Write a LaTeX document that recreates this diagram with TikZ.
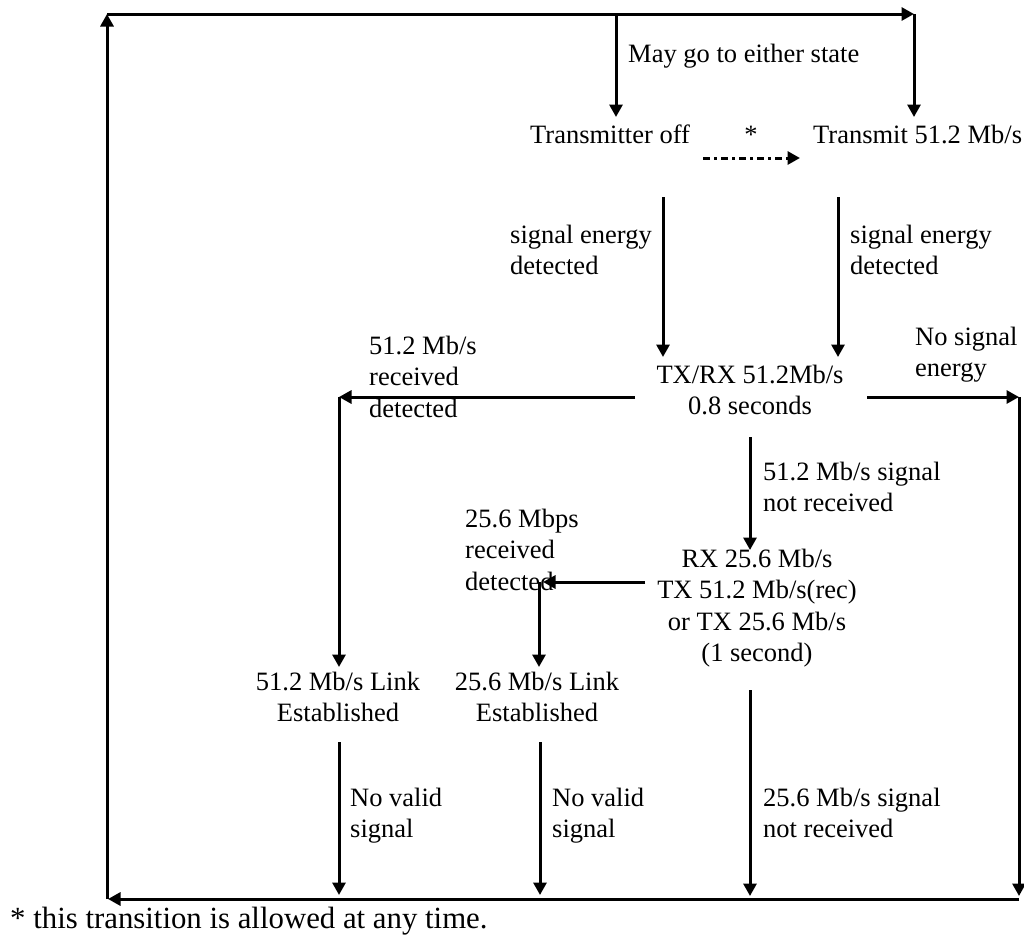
\documentclass[tikz,border=0pt]{standalone}
\usepackage{fontspec}
\setmainfont{Liberation Serif}
\usetikzlibrary{arrows.meta}
\begin{document}
\begin{tikzpicture}[x=1pt,y=-1pt,
  every node/.style={inner sep=0pt, font=\fontsize{26.5}{31.5}\selectfont},
  lbl/.style={anchor=base west, align=left},
  statebox/.style={anchor=base, align=center},
  conn/.style={line width=3pt, -{Triangle[length=12.5pt,width=13pt]}},
  dotconn/.style={conn, dash pattern=on 7pt off 4pt on 3pt off 4pt}]
\useasboundingbox (0,0) rectangle (1024,935);

% states and transition labels (base = baseline of the last line)
\node[lbl] (may) at (628,62) {May go to either state};
\node[anchor=base west] (txoff) at (530,143) {Transmitter off};
\node[anchor=base] (star) at (751,143) {*};
\node[anchor=base west] (tx51) at (813,143) {Transmit 51.2 Mb/s};
\node[lbl] (sedL) at (510,274.5) {signal energy\\detected};
\node[lbl] (sedR) at (850,274.5) {signal energy\\detected};
\node[statebox] (txrx) at (750,414.5) {TX/RX 51.2Mb/s\\0.8 seconds};
\node[lbl] (rec51) at (369,417) {51.2 Mb/s\\received\\detected};
\node[lbl] (nosig) at (915,376.5) {No signal\\energy};
\node[lbl] (notrec51) at (763,511.5) {51.2 Mb/s signal\\not received};
\node[lbl] (rec25) at (465,590) {25.6 Mbps\\received\\detected};
\node[statebox] (rx25) at (757,661.5) {RX 25.6 Mb/s\\TX 51.2 Mb/s(rec)\\or TX 25.6 Mb/s\\(1 second)};
\node[statebox] (link51) at (338,721.5) {51.2 Mb/s Link\\Established};
\node[statebox] (link25) at (537,721.5) {25.6 Mb/s Link\\Established};
\node[lbl] (nv1) at (350,837.5) {No valid\\signal};
\node[lbl] (nv2) at (552,837.5) {No valid\\signal};
\node[lbl] (notrec25) at (763,837.5) {25.6 Mb/s signal\\not received};
\node[anchor=base west, font=\fontsize{30.8}{36}\selectfont] (foot) at (10,928)
  {* this transition is allowed at any time.};

% corner and end points of the connectors
\coordinate (bl) at (107,899);
\coordinate (tl) at (107,14);
\coordinate (tr) at (914,14);
\coordinate (toffTop) at (616,14);
\coordinate (toffIn) at (616,117);
\coordinate (t51In) at (914,117);
\coordinate (dotA) at (703,158);
\coordinate (dotB) at (800,158);
\coordinate (sedLa) at (663,197);
\coordinate (sedLb) at (663,357);
\coordinate (sedRa) at (838,197);
\coordinate (sedRb) at (838,357);
\coordinate (txrxL) at (635,397);
\coordinate (l51c) at (339,397);
\coordinate (l51In) at (339,667);
\coordinate (txrxR) at (867,397);
\coordinate (rc) at (1019,397);
\coordinate (rcb) at (1019,896);
\coordinate (br) at (1019,899);
\coordinate (blIn) at (108,899);
\coordinate (txrxB) at (750,437);
\coordinate (rx25In) at (750,550);
\coordinate (rx25L) at (645,582);
\coordinate (l25c) at (543,582);
\coordinate (l25t) at (539,582);
\coordinate (l25In) at (539,667);
\coordinate (l51Out) at (339,742);
\coordinate (l51Bot) at (339,895);
\coordinate (l25Out) at (540,742);
\coordinate (l25Bot) at (540,895);
\coordinate (rx25Out) at (750,690);
\coordinate (rx25Bot) at (750,896);

% connectors
\draw[conn] (bl) -- (tl);
\draw[conn] (tl) -- (tr);
\draw[conn] (tr) -- (t51In);
\draw[conn] (toffTop) -- (toffIn);
\draw[dotconn] (dotA) -- (dotB);
\draw[conn] (sedLa) -- (sedLb);
\draw[conn] (sedRa) -- (sedRb);
\draw[conn] (txrxL) -- (l51c);
\draw[conn] (l51c) -- (l51In);
\draw[conn] (txrxR) -- (rc);
\draw[conn] (rc) -- (rcb);
\draw[conn] (br) -- (blIn);
\draw[conn] (txrxB) -- (rx25In);
\draw[conn] (rx25L) -- (l25c);
\draw[conn] (l25t) -- (l25In);
\draw[conn] (l51Out) -- (l51Bot);
\draw[conn] (l25Out) -- (l25Bot);
\draw[conn] (rx25Out) -- (rx25Bot);
\end{tikzpicture}
\end{document}
